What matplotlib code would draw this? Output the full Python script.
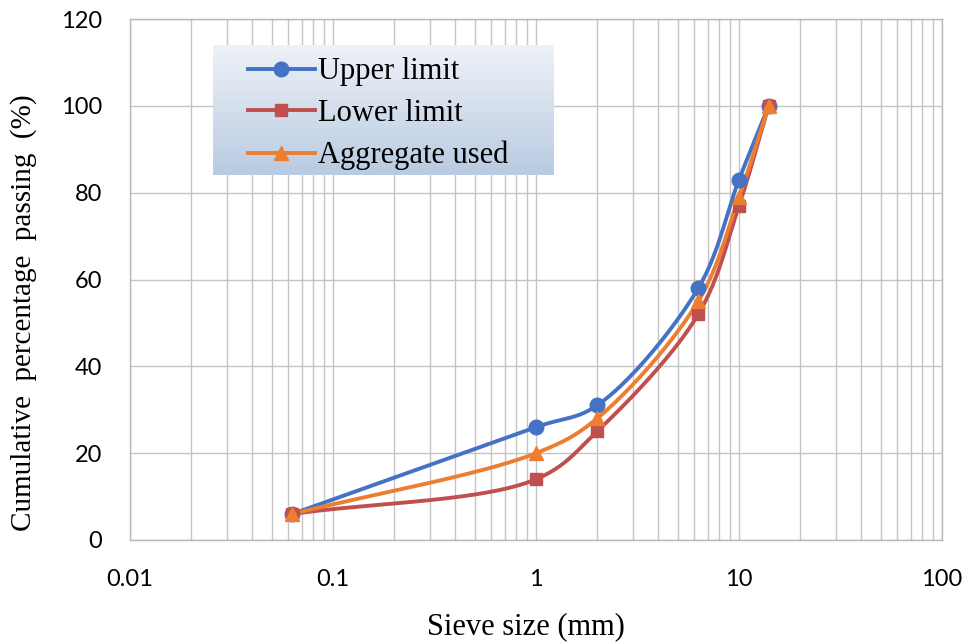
import numpy as np
import matplotlib
matplotlib.use("Agg")
from matplotlib import pyplot as plt
from matplotlib.ticker import FixedLocator, NullFormatter, LogLocator

# sieve sizes (mm) and cumulative passing (%)
sieve = [0.063, 1, 2, 6.3, 10, 14]
upper = [6, 26, 31, 58, 83, 100]
lower = [6, 14, 25, 52, 77, 100]
used = [6, 20, 28, 55, 79, 100]

labels = ["Upper limit", "Lower limit", "Aggregate used"]
colors = ["#4472c4", "#c0504d", "#ed7d31"]
markers = ["o", "s", "^"]
msizes = [10.5, 9, 10.5]

xticks = [0.01, 0.1, 1, 10, 100]
xticklabels = ["0.01", "0.1", "1", "10", "100"]
yticks = [0, 20, 40, 60, 80, 100, 120]


# centripetal Catmull-Rom smoothing, in screen-like units (log x)
def smooth(x, y, n=40, sx=203.0, sy=4.34):
  P = np.column_stack([np.log10(np.asarray(x, float)) * sx, np.asarray(y, float) * sy])
  P = np.vstack([2 * P[0] - P[1], P, 2 * P[-1] - P[-2]])
  out = []
  for i in range(1, len(P) - 2):
    p0, p1, p2, p3 = P[i - 1], P[i], P[i + 1], P[i + 2]
    t0 = 0.0
    t1 = t0 + np.linalg.norm(p1 - p0) ** 0.5
    t2 = t1 + np.linalg.norm(p2 - p1) ** 0.5
    t3 = t2 + np.linalg.norm(p3 - p2) ** 0.5
    t = np.linspace(t1, t2, n)[:, None]
    a1 = (t1 - t) / (t1 - t0) * p0 + (t - t0) / (t1 - t0) * p1
    a2 = (t2 - t) / (t2 - t1) * p1 + (t - t1) / (t2 - t1) * p2
    a3 = (t3 - t) / (t3 - t2) * p2 + (t - t2) / (t3 - t2) * p3
    b1 = (t2 - t) / (t2 - t0) * a1 + (t - t0) / (t2 - t0) * a2
    b2 = (t3 - t) / (t3 - t1) * a2 + (t - t1) / (t3 - t1) * a3
    c = (t2 - t) / (t2 - t1) * b1 + (t - t1) / (t2 - t1) * b2
    out.append(c if i == 1 else c[1:])
  out = np.vstack(out)
  return 10 ** (out[:, 0] / sx), out[:, 1] / sy


fig = plt.figure(figsize=(9.72, 6.44), dpi=100)
ax = fig.add_axes([130 / 972, 1 - 540 / 644, 812 / 972, 521 / 644])

series = [upper, lower, used]
for s, lab, c, m, ms in zip(series, labels, colors, markers, msizes):
  xs, ys = smooth(sieve, s)
  ax.plot(xs, ys, color=c, lw=2.8, zorder=3, solid_capstyle="round")
  ax.plot(sieve, s, ls="none", marker=m, ms=ms, color=c, zorder=4)
  # legend handle
  ax.plot([], [], color=c, lw=2.8, marker=m, ms=ms, label=lab)

ax.set_xscale("log")
ax.set_xlim(0.01, 100)
ax.set_ylim(0, 120)
ax.xaxis.set_major_locator(FixedLocator(xticks))
ax.set_xticklabels(xticklabels)
ax.xaxis.set_minor_locator(LogLocator(base=10, subs=np.arange(2, 10)))
ax.xaxis.set_minor_formatter(NullFormatter())
ax.set_yticks(yticks)

ax.set_axisbelow(True)
ax.grid(True, which="both", axis="x", color="#c4c4c4", lw=1.0)
ax.grid(True, which="major", axis="y", color="#c4c4c4", lw=1.0)
for sp in ax.spines.values():
  sp.set_color("#b8b8b8")
  sp.set_linewidth(1.0)
ax.tick_params(which="both", length=0, labelsize=17)
for t in ax.get_xticklabels() + ax.get_yticklabels():
  t.set_fontfamily("Lato")
ax.tick_params(axis="x", pad=21)
ax.tick_params(axis="y", pad=20)

ax.set_xlabel("Sieve size (mm)", fontfamily="Liberation Serif", fontsize=22)
ax.set_ylabel("Cumulative  percentage  passing  (%)", fontfamily="Liberation Serif",
              fontsize=21)
ax.xaxis.set_label_coords(0.488, -0.138)
ax.yaxis.set_label_coords(-0.115, 0.437)

# gradient background behind legend
grad = np.linspace(0, 1, 100)[:, None]
cmap = matplotlib.colors.LinearSegmentedColormap.from_list("g", ["#b9cbe1", "#eef2f8"])
ax.imshow(grad, cmap=cmap, aspect="auto", origin="lower", transform=ax.transAxes,
          extent=[0.102, 0.521, 0.70, 0.948], zorder=1.5)

leg = ax.legend(loc="upper left", bbox_to_anchor=(0.13, 0.95), frameon=False,
                prop={"family": "Liberation Serif", "size": 22}, handlelength=2.2,
                handletextpad=0.1, labelspacing=0.42, borderaxespad=0)

fig.savefig("out.png", dpi=100)
